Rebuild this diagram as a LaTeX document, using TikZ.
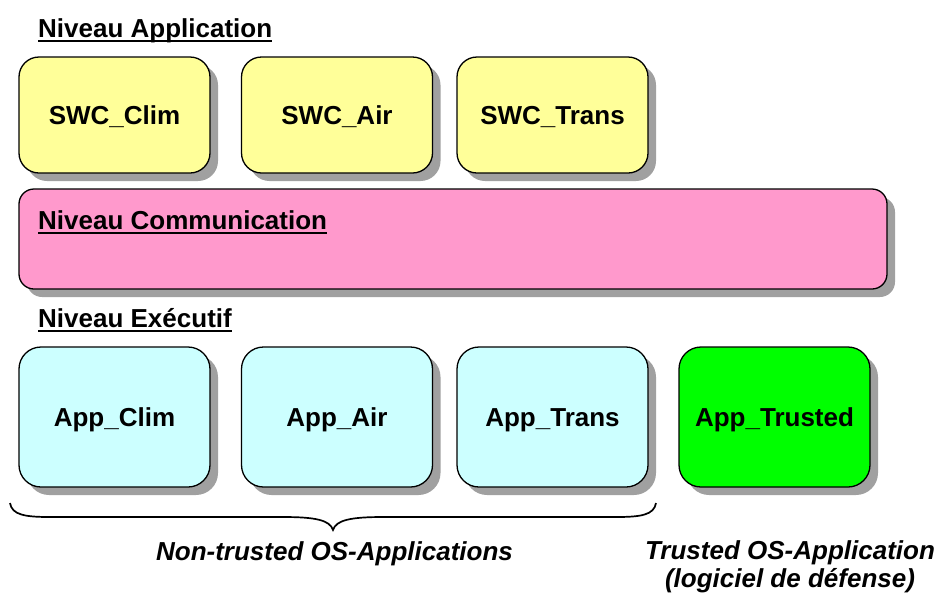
\documentclass[tikz,border=0pt]{standalone}
\usepackage{fontspec}
\setmainfont{Liberation Sans}
\usetikzlibrary{shadows}
\definecolor{swcyellow}{HTML}{FFFF99}
\definecolor{compink}{HTML}{FF99CC}
\definecolor{appcyan}{HTML}{CCFFFF}
\definecolor{appgreen}{HTML}{00FF00}
\definecolor{shadowgray}{HTML}{A0A0A0}
\begin{document}
\begin{tikzpicture}[x=1pt,y=-1pt,
  boxstyle/.style={draw=black, line width=1.3pt, rounded corners=20pt,
    minimum width=191pt, inner sep=0pt, text height=18.6pt, text depth=0pt,
    font=\bfseries\fontsize{26}{31}\selectfont,
    drop shadow={shadow xshift=8pt, shadow yshift=-8pt, fill=shadowgray, opacity=1}},
  swcbox/.style={boxstyle, fill=swcyellow, minimum height=116pt},
  appbox/.style={boxstyle, fill=appcyan, minimum height=140pt, rounded corners=22pt},
  header/.style={anchor=base west, inner sep=0pt, font=\bfseries\fontsize{26}{31}\selectfont},
  caption/.style={anchor=base, inner sep=0pt, font=\bfseries\itshape\fontsize{26}{31}\selectfont},
  uline/.style={line width=2.6pt}
]
\useasboundingbox (0,0) rectangle (937,595);

% Application level
\node[header] (hApp) at (38,37) {Niveau Application};
\draw[uline] ([yshift=-4pt]hApp.base west) -- ([yshift=-4pt]hApp.base east);
\node[swcbox] (swcClim) at (114.5,115) {SWC\_Clim};
\node[swcbox] (swcAir) at (337,115) {SWC\_Air};
\node[swcbox] (swcTrans) at (552.5,115) {SWC\_Trans};

% Communication level
\node[boxstyle, fill=compink, minimum width=868pt, minimum height=100pt, rounded corners=15pt] (comm) at (453,239) {};
\node[header] (hComm) at (38,229) {Niveau Communication};
\draw[uline] ([yshift=-4pt]hComm.base west) -- ([yshift=-4pt]hComm.base east);

% Executive level
\node[header] (hExe) at (38,327) {Niveau Exécutif};
\draw[uline] ([yshift=-4pt]hExe.base west) -- ([yshift=-4pt]hExe.base east);
\node[appbox] (appClim) at (114.5,417) {App\_Clim};
\node[appbox] (appAir) at (337,417) {App\_Air};
\node[appbox] (appTrans) at (552.5,417) {App\_Trans};
\node[appbox, fill=appgreen] (appTrusted) at (774.5,417) {App\_Trusted};

% Brace
\coordinate (bl) at (10,503);
\coordinate (btip) at (333,530);
\coordinate (br) at (656,503);
\draw[line width=1.7pt] (bl) .. controls (12,515) and (25,517) .. (50,517) -- (283,517)
  .. controls (315,517) and (330,520) .. (btip)
  .. controls (336,520) and (351,517) .. (383,517) -- (616,517)
  .. controls (641,517) and (654,515) .. (br);

% Captions
\node[caption] (capNon) at (334.5,560) {Non-trusted OS-Applications};
\node[caption] (capTr1) at (790,559) {Trusted OS-Application};
\node[caption] (capTr2) at (790,587) {(logiciel de défense)};
\end{tikzpicture}
\end{document}
